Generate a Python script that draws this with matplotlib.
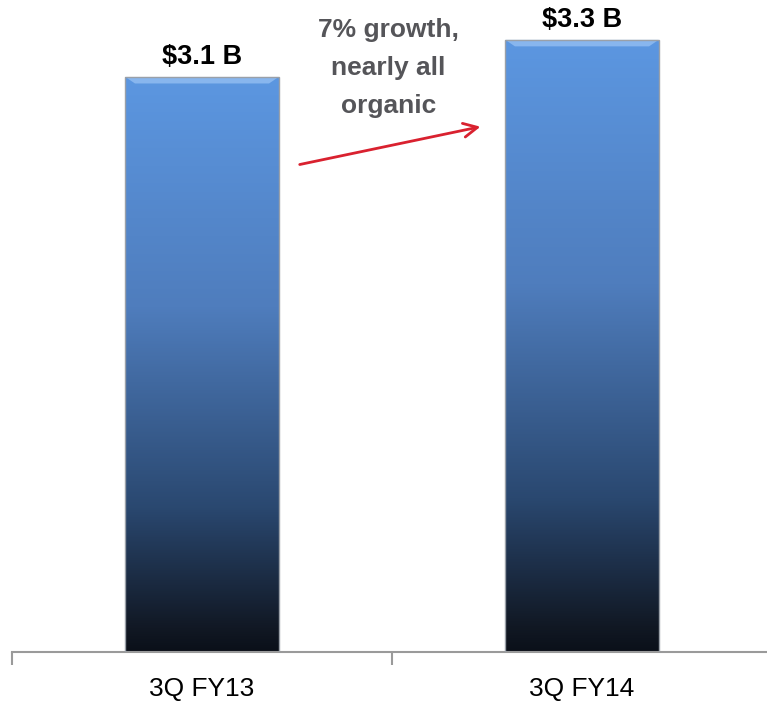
#!/usr/bin/env python3
import numpy as np
import matplotlib
matplotlib.use("Agg")
import matplotlib.pyplot as plt
from matplotlib.colors import LinearSegmentedColormap

# data
quarters = ["3Q FY13", "3Q FY14"]
revenue = [3.1, 3.3]          # $ billions
value_labels = ["$3.1 B", "$3.3 B"]
note = "7% growth,\nnearly all\norganic"

plt.rcParams['font.family'] = ['Liberation Sans', 'DejaVu Sans']

# blue-to-black gradient, light at the top of each bar
bar_cmap = LinearSegmentedColormap.from_list(
    "bar", [(0.0, "#0b1019"), (0.04, "#111824"), (0.25, "#2a4870"),
            (0.6, "#4f7dbd"), (1.0, "#5c97e1")])


def gradient_bars(ax, xs, heights, width):
    bars = ax.bar(xs, heights, width=width, color="none",
                  edgecolor="#9aa0a8", linewidth=1.0, zorder=3)
    grad = np.linspace(0, 1, 256).reshape(-1, 1)
    for b in bars:
        x0, w, h = b.get_x(), b.get_width(), b.get_height()
        im = ax.imshow(grad, cmap=bar_cmap, origin="lower", aspect="auto",
                       extent=[x0, x0 + w, 0, h], zorder=2)
        im.set_clip_path(b)
        # lighter bevel strip at the top
        bev = 0.035
        ax.fill([x0, x0 + w, x0 + w - 0.025, x0 + 0.025],
                [h, h, h - bev, h - bev], color="#88b6ee", lw=0, zorder=2.5)
    return bars


def main():
    fig = plt.figure(figsize=(7.67, 7.04), dpi=100)
    ax = fig.add_axes([12 / 767, 52 / 704, 760 / 767, 652 / 704])

    xs = np.arange(len(quarters))
    gradient_bars(ax, xs, revenue, 0.403)

    ax.set_xlim(-0.5, 1.5)
    ax.set_ylim(0, 3.515)

    for x, v, lab in zip(xs, revenue, value_labels):
        ax.text(x, v + 0.035, lab, ha="center", va="bottom",
                fontsize=19.5, fontweight="bold", color="black")

    ax.text(0.49, 3.148, note, ha="center", va="center", fontsize=19,
            fontweight="bold", color="#555559", linespacing=1.75)
    ax.annotate("", xy=(0.74, 2.835), xytext=(0.25, 2.625),
                arrowprops=dict(arrowstyle="->,head_length=1.0,head_width=0.5",
                                color="#d9212f", lw=2))

    for s in ["top", "right", "left"]:
        ax.spines[s].set_visible(False)
    ax.spines["bottom"].set_color("#9a9a9a")
    ax.spines["bottom"].set_linewidth(1.5)
    ax.set_yticks([])
    ax.set_xticks([-0.5, 0.5, 1.5])
    ax.set_xticklabels([])
    ax.set_xticks(xs, minor=True)
    ax.set_xticklabels(quarters, minor=True, fontsize=19)
    ax.tick_params(axis="x", which="major", length=9, width=1.5,
                   color="#9a9a9a", direction="out")
    ax.tick_params(axis="x", which="minor", length=0, pad=18)

    fig.savefig("out.png", dpi=100)


if __name__ == "__main__":
    main()
